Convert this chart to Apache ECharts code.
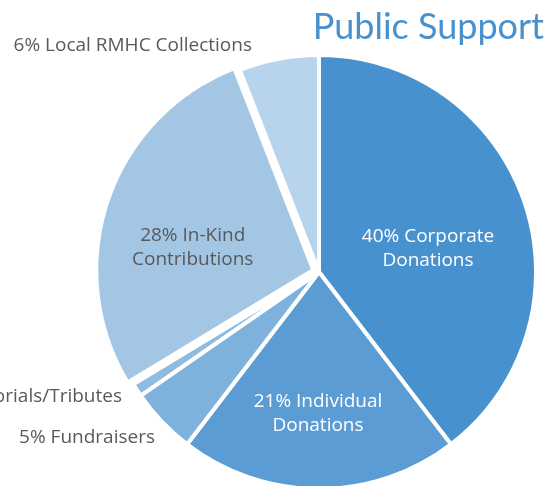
<!DOCTYPE html>
<html><head><meta charset="utf-8">
<script src="https://cdn.jsdelivr.net/npm/echarts@6/dist/echarts.min.js"></script>
<style>html,body{margin:0;padding:0;background:#fff}#c{width:553px;height:486px}</style>
</head><body><div id="c"></div>
<script>
const categories = ['Corporate Donations','Individual Donations','Fundraisers','Memorials/Tributes','In-Kind Contributions','Local RMHC Collections'];
const values = [40, 21, 5, 1, 28, 6];
const labels = ['40% Corporate\nDonations','21% Individual\nDonations','5% Fundraisers','1% Memorials/Tributes','28% In-Kind\nContributions','6% Local RMHC Collections'];
const colors = ['#4891cf','#5a9cd3','#7eb1dc','#8fbbe1','#a3c6e5','#b7d4ec'];
const labelColors = ['#ffffff','#ffffff','#595959','#595959','#595959','#595959'];
const labelPos = [[428,249],[318,414],[155,438],[122,397],[192,246],[252,46]];
const labelAlign = ['center','center','right','right','center','right'];
const exploded = [false,false,false,false,true,false];

const chart = echarts.init(document.getElementById('c'));
chart.setOption({
  animation:false,
  title:{text:'Public Support', right:4, top:4, textStyle:{color:'#4891cf', fontFamily:'Lato', fontWeight:'normal', fontSize:36}},
  series:[{
    type:'pie', center:[319,272], radius:217, startAngle:90, clockwise:true,
    avoidLabelOverlap:false, selectedMode:'multiple', selectedOffset:6,
    itemStyle:{borderColor:'#fff', borderWidth:4},
    labelLine:{show:false},
    emphasis:{disabled:true},
    select:{label:{offset:[-15,13]}},
    data: categories.map((c,i)=>({name:c, value:values[i], selected:exploded[i],
      itemStyle:{color:colors[i]},
      label:{show:true, position:(i<2||i===4)?'inside':'outside', formatter:labels[i], color:labelColors[i],
        fontFamily:'Open Sans', fontSize:19, lineHeight:24, align:'center',
        offset: exploded[i] ? [-15,13] : [0,0]}})),
    labelLayout: function(p){
      const i=p.dataIndex;
      return {x:labelPos[i][0], y:labelPos[i][1], align:labelAlign[i], verticalAlign:'middle'};
    }
  }]
});
</script></body></html>
